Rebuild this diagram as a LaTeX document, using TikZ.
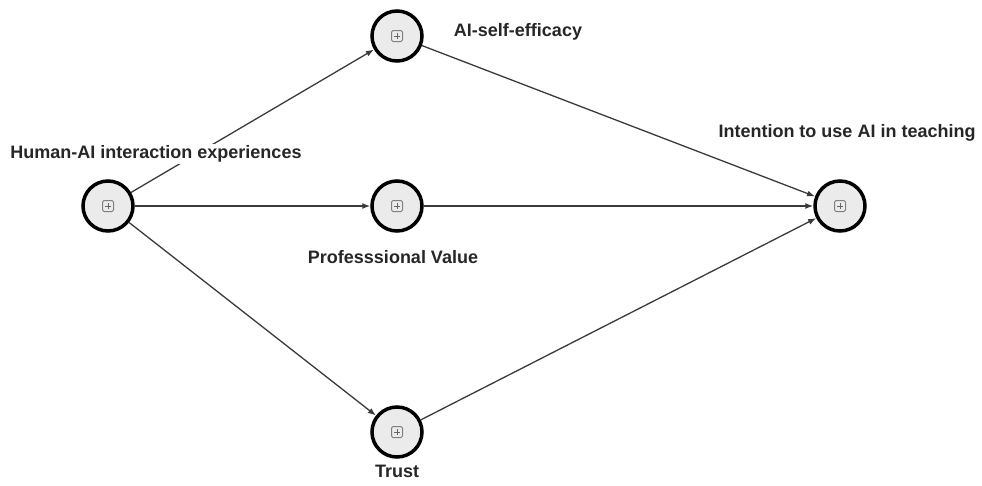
\documentclass[tikz,border=0pt]{standalone}
\usepackage{fontspec}
\setmainfont{Liberation Sans}
\usepackage{tikz}
\usetikzlibrary{calc}
\usetikzlibrary{arrows.meta}

\definecolor{ringfill}{HTML}{EBEBEB}
\definecolor{linkgray}{HTML}{3A3A3A}

\begin{document}
\begin{tikzpicture}[
		x=1pt, y=-1pt,
		construct/.style={
			shape=circle,
			draw=black,
			line width=3.5pt,
			fill=ringfill,
			minimum size=50pt,
			inner sep=0pt,
			path picture={
				\draw[gray, line width=1pt, rounded corners=1.5pt]
					($(path picture bounding box.center)+(-5.5pt,-5.5pt)$) rectangle ++(11pt,11pt);
				\draw[gray!80!black, line width=1pt]
					($(path picture bounding box.center)+(-3pt,0)$) -- ++(6pt,0)
					($(path picture bounding box.center)+(0,-3pt)$) -- ++(0,6pt);
			}
		},
		caption/.style={
			font=\fontsize{18}{20}\selectfont\bfseries,
			text=black!85,
			inner sep=1pt
		},
		link/.style={-{Latex[length=8pt,width=6pt]}, draw=linkgray, line width=1.3pt}
		]
		\useasboundingbox (0,0) rectangle (982,485);

		% constructs
		\node[construct] (hai) at (108,206) {};
		\node[construct] (ase) at (397,36) {};
		\node[construct] (pv) at (397,206) {};
		\node[construct] (tr) at (397,432) {};
		\node[construct] (int) at (840,206) {};

		% paths
		\draw[link] (hai) -- (ase);
		\draw[link] (hai) -- (pv);
		\draw[link] (hai) -- (tr);
		\draw[link] (ase) -- (int);
		\draw[link] (pv) -- (int);
		\draw[link] (tr) -- (int);

		% names
		\node[caption, fill=white, inner sep=2pt] (hailab) at (156,154) {Human-AI interaction experiences};
		\node[caption] (aselab) at (518,32) {AI-self-efficacy};
		\node[caption] (pvlab) at (393,257) {Professsional Value};
		\node[caption] (trlab) at (397,471) {Trust};
		\node[caption] (intlab) at (847,133) {Intention to use AI in teaching};
	\end{tikzpicture}
\end{document}
